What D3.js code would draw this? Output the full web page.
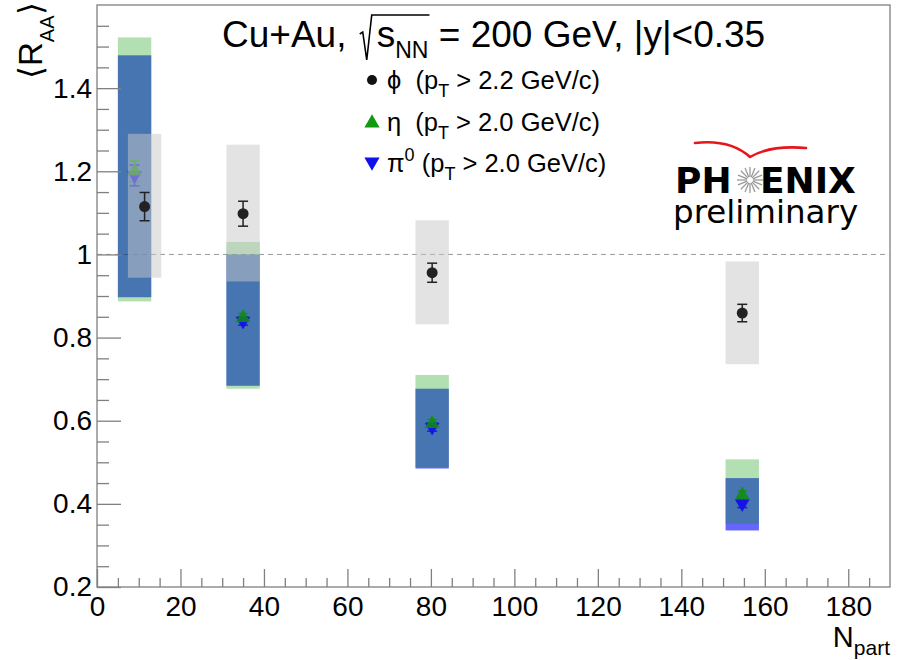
<!DOCTYPE html>
<html><head><meta charset="utf-8">
<script src="https://cdn.jsdelivr.net/npm/d3@7"></script>
<style>
body{margin:0;background:#fff}
text{font-family:"Liberation Sans",Arial,Helvetica,sans-serif;fill:#000;white-space:pre}
</style>
</head><body>
<svg id="c" width="901" height="660"></svg>
<script>
// ---- data ----
const phiNpart = [11.4, 35, 80.3, 154.6];
const phiRaa   = [1.115, 1.098, 0.956, 0.859];
const phiStat  = [0.034, 0.030, 0.023, 0.021];
const phiSysLo = [0.944, 0.935, 0.832, 0.736];
const phiSysHi = [1.290, 1.264, 1.082, 0.983];

const etaNpart = [9.0, 35, 80.3, 154.6];
const etaRaa   = [1.200, 0.848, 0.593, 0.421];
const etaStat  = [0.025, 0.010, 0.010, 0.010];
const etaSysLo = [0.887, 0.677, 0.488, 0.352];
const etaSysHi = [1.522, 1.030, 0.710, 0.507];

const pi0Npart = [9.0, 35, 80.3, 154.6];
const pi0Raa   = [1.190, 0.840, 0.585, 0.401];
const pi0Stat  = [0.025, 0.010, 0.010, 0.010];
const pi0SysLo = [0.897, 0.684, 0.485, 0.336];
const pi0SysHi = [1.479, 1.000, 0.677, 0.462];

const boxHalfWidth = 4; // in Npart units
const xTicks = [0,20,40,60,80,100,120,140,160,180];
const yTicks = [0.2,0.4,0.6,0.8,1.0,1.2,1.4];
const yTickLabels = ["0.2","0.4","0.6","0.8","1","1.2","1.4"];

// ---- layout ----
const svg = d3.select("#c");
const L=97, R=890, T=5, B=587;
const x = d3.scaleLinear([0,190],[L,R]);
const y = d3.scaleLinear([0.2,1.6],[B,T]);
const axisCol = "#808080";

// frame
svg.append("rect").attr("x",L).attr("y",T).attr("width",R-L).attr("height",B-T)
  .attr("fill","none").attr("stroke",axisCol).attr("stroke-width",1.3);

// dashed unity line
svg.append("line").attr("x1",L).attr("x2",R).attr("y1",y(1)).attr("y2",y(1))
  .attr("stroke","#999").attr("stroke-width",1).attr("stroke-dasharray","5,4");

// boxes
const plot = svg.append("g");
function boxes(nparts, lo, hi, fill){
  plot.append("g").selectAll("rect").data(nparts).join("rect")
    .attr("x",(d)=>x(d-boxHalfWidth)).attr("width",(d)=>x(d+boxHalfWidth)-x(d-boxHalfWidth))
    .attr("y",(d,i)=>y(hi[i])).attr("height",(d,i)=>y(lo[i])-y(hi[i]))
    .attr("fill",fill);
}
function errbars(nparts, vals, errs, col, cap){
  const g = plot.append("g").attr("stroke",col).attr("stroke-width",1.5);
  nparts.forEach((d,i)=>{
    g.append("line").attr("x1",x(d)).attr("x2",x(d)).attr("y1",y(vals[i]-errs[i])).attr("y2",y(vals[i]+errs[i]));
    [vals[i]-errs[i], vals[i]+errs[i]].forEach(v=>{
      g.append("line").attr("x1",x(d)-cap).attr("x2",x(d)+cap).attr("y1",y(v)).attr("y2",y(v));
    });
  });
}
const triUp = d3.symbol(d3.symbolTriangle, 95);
function tris(nparts, vals, col, down){
  plot.append("g").selectAll("path").data(nparts).join("path")
    .attr("d",triUp)
    .attr("transform",(d,i)=>`translate(${x(d)},${y(vals[i])})${down?" rotate(180)":""}`)
    .attr("fill",col);
}
boxes(pi0Npart, pi0SysLo, pi0SysHi, "rgba(0,0,255,0.6)");
boxes(etaNpart, etaSysLo, etaSysHi, "rgba(0,153,0,0.3)");
errbars(pi0Npart, pi0Raa, pi0Stat, "#1a1ae0", 5);
errbars(etaNpart, etaRaa, etaStat, "#119911", 5);
tris(pi0Npart, pi0Raa, "#1414e6", true);
tris(etaNpart, etaRaa, "rgba(17,140,17,0.85)", false);
boxes(phiNpart, phiSysLo, phiSysHi, "rgba(200,200,200,0.5)");
errbars(phiNpart, phiRaa, phiStat, "#222", 5);
plot.append("g").selectAll("circle").data(phiNpart).join("circle")
  .attr("cx",d=>x(d)).attr("cy",(d,i)=>y(phiRaa[i])).attr("r",5.5).attr("fill","#222");

// axes
function styleAxis(g){
  g.selectAll(".domain").remove();
  g.selectAll(".tick line").attr("stroke",axisCol).attr("stroke-width",1.3);
  g.selectAll(".tick text").attr("fill","#000").style("font-size","28px")
    .style("font-family",'"Liberation Sans",Arial,sans-serif');
}
svg.append("g").attr("transform",`translate(0,${B})`)
  .call(d3.axisBottom(x).tickValues(d3.range(0,190,5).filter(v=>v%20!==0)).tickSize(-9).tickFormat(""))
  .call(styleAxis);
svg.append("g").attr("transform",`translate(0,${B})`)
  .call(d3.axisBottom(x).tickValues(xTicks).tickSize(-18).tickPadding(9).tickFormat(d3.format("d")))
  .call(styleAxis);
svg.append("g").attr("transform",`translate(${L},0)`)
  .call(d3.axisLeft(y).tickValues(d3.range(0.25,1.6,0.05).filter(v=>Math.abs(v*5-Math.round(v*5))>1e-6)).tickSize(-12).tickFormat(""))
  .call(styleAxis);
svg.append("g").attr("transform",`translate(${L},0)`)
  .call(d3.axisLeft(y).tickValues(yTicks).tickSize(-24).tickPadding(5).tickFormat((d,i)=>yTickLabels[i]))
  .call(styleAxis);
svg.selectAll(".tick text").attr("fill","#000");

// axis titles
const yt = svg.append("text").attr("transform","translate(42,79) rotate(-90)")
  .style("font-size","33px");
yt.append("tspan").text("⟨R");
yt.append("tspan").attr("dy",12).style("font-size","20px").text("AA");
yt.append("tspan").attr("dy",-12).text("⟩");

const xt = svg.append("text").attr("x",890).attr("y",647).attr("text-anchor","end").style("font-size","29px");
xt.append("tspan").text("N");
xt.append("tspan").attr("dy",8).style("font-size","21px").text("part");

// title
const tBase = 47;
const title = svg.append("text").attr("x",222).attr("y",tBase).style("font-size","37px");
title.append("tspan").text("Cu+Au, ");
title.append("tspan").attr("dx",20).text("s");
title.append("tspan").attr("dy",11).style("font-size","23px").text("NN");
title.append("tspan").attr("dy",-11).text(" = 200 GeV, |y|<0.35");
{
  const node = title.node();
  const sx = node.getStartPositionOfChar(7).x;
  const ex = node.getEndPositionOfChar(9).x;
  svg.append("path").attr("fill","none").attr("stroke","#000").attr("stroke-width",1.6)
    .attr("d",`M${sx-17},${tBase-13} L${sx-14},${tBase-15} L${sx-10},${tBase+13} L${sx-5},${tBase-32} L${ex+1},${tBase-32}`);
}

// legend
const leg = [
  {sym:"circle", col:"#111", yy:80},
  {sym:"up", col:"#119911", yy:122},
  {sym:"down", col:"#1010ee", yy:163}
];
const legMain = ["ϕ  (p", "η  (p", "π"];
const legSub = ["T","T","0"];
const legRest = [" > 2.2 GeV/c)", " > 2.0 GeV/c)", " (p"];
leg.forEach((l,i)=>{
  if(l.sym==="circle") svg.append("circle").attr("cx",372).attr("cy",l.yy).attr("r",5).attr("fill",l.col);
  else svg.append("path").attr("d",d3.symbol(d3.symbolTriangle,100)).attr("fill",l.col)
    .attr("transform",`translate(372,${l.yy+ (l.sym==="up"?1:-1)})${l.sym==="down"?" rotate(180)":""}`);
  const t = svg.append("text").attr("x",387).attr("y",l.yy+9).style("font-size","25.5px");
  if(l.sym==="down"){
    t.append("tspan").text(legMain[i]);
    t.append("tspan").attr("dy",-11).style("font-size","18px").text(legSub[i]);
    t.append("tspan").attr("dy",11).text(legRest[i]);
    t.append("tspan").attr("dy",8).style("font-size","18px").text("T");
    t.append("tspan").attr("dy",-8).text(" > 2.0 GeV/c)");
  } else {
    t.append("tspan").text(legMain[i]);
    t.append("tspan").attr("dy",8).style("font-size","18px").text(legSub[i]);
    t.append("tspan").attr("dy",-8).text(legRest[i]);
  }
});

// PHENIX logo
const logo = svg.append("g");
logo.append("path").attr("fill","none").attr("stroke","#e8141c").attr("stroke-width",2.6).attr("stroke-linecap","round")
  .attr("d","M695,143 Q730,139 750,157 Q770,145 806,148");
logo.append("text").attr("x",675).attr("y",193).style("font-family","'DejaVu Sans'").style("font-weight","bold").style("font-size","36px").text("PH");
logo.append("text").attr("x",760).attr("y",193).style("font-family","'DejaVu Sans'").style("font-weight","bold").style("font-size","36px").text("ENIX");
for(let k=0;k<16;k++){
  const a = k*Math.PI/8;
  logo.append("line").attr("x1",750+3*Math.cos(a)).attr("y1",180+3*Math.sin(a))
    .attr("x2",750+13*Math.cos(a)).attr("y2",180+13*Math.sin(a))
    .attr("stroke","#999").attr("stroke-width",1.3);
}
logo.append("text").attr("x",673).attr("y",223).style("font-family","'DejaVu Sans'").style("font-size","32.5px").text("preliminary");
</script>
</body></html>
